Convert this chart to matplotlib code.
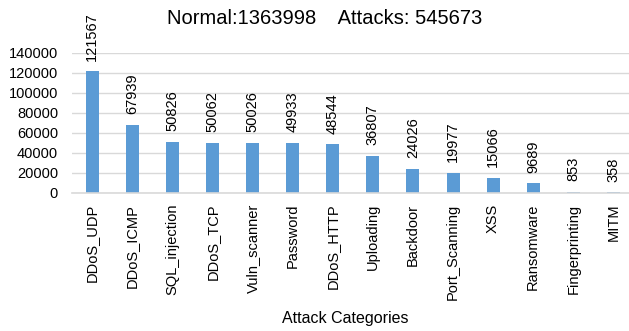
from matplotlib import pyplot as plt

# Data
categories = ["DDoS_UDP", "DDoS_ICMP", "SQL_injection", "DDoS_TCP", "Vuln_scanner",
              "Password", "DDoS_HTTP", "Uploading", "Backdoor", "Port_Scanning",
              "XSS", "Ransomware", "Fingerprinting", "MITM"]
counts = [121567, 67939, 50826, 50062, 50026, 49933, 48544, 36807, 24026,
          19977, 15066, 9689, 853, 358]
yticks = [0, 20000, 40000, 60000, 80000, 100000, 120000, 140000]
title = "Normal:1363998    Attacks: 545673"
xlabel = "Attack Categories"

plt.rcParams["font.family"] = ["Liberation Sans", "DejaVu Sans"]

fig = plt.figure(figsize=(6.29, 3.31), dpi=100)
# plot area runs a little past the right edge, as in the original
ax = fig.add_axes([72 / 629, 138.3 / 331, 561.5 / 629, 140 / 331])

x = list(range(len(categories)))
ax.bar(x, counts, width=0.325, color="#5B9BD5", zorder=3)

for xi, v in zip(x, counts):
    ax.annotate(str(v), (xi, v), xytext=(0, 7.5), textcoords="offset points",
                rotation=90, ha="center", va="bottom", fontsize=10.5)

ax.set_xlim(-0.5, len(categories) - 0.5)
ax.set_ylim(0, 140000)
ax.set_yticks(yticks)
ax.set_yticklabels([str(t) for t in yticks], fontsize=10.5)
ax.set_xticks(x)
ax.set_xticklabels(categories, rotation=90, fontsize=10.5)
ax.tick_params(axis="both", length=0)
ax.tick_params(axis="x", pad=8)
ax.tick_params(axis="y", pad=10)
ax.yaxis.grid(True, color="#D9D9D9", linewidth=1, zorder=0)
for side in ["top", "right", "left"]:
    ax.spines[side].set_visible(False)
ax.spines["bottom"].set_color("#D9D9D9")
ax.spines["bottom"].set_linewidth(1.2)
ax.spines["bottom"].set_zorder(4)

fig.text(325 / 629, 1 - 19 / 331, title, ha="center", va="center", fontsize=14.5)
fig.text(345 / 629, 1 - 318 / 331, xlabel, ha="center", va="center", fontsize=11.5)

fig.savefig("out.png", dpi=100)
